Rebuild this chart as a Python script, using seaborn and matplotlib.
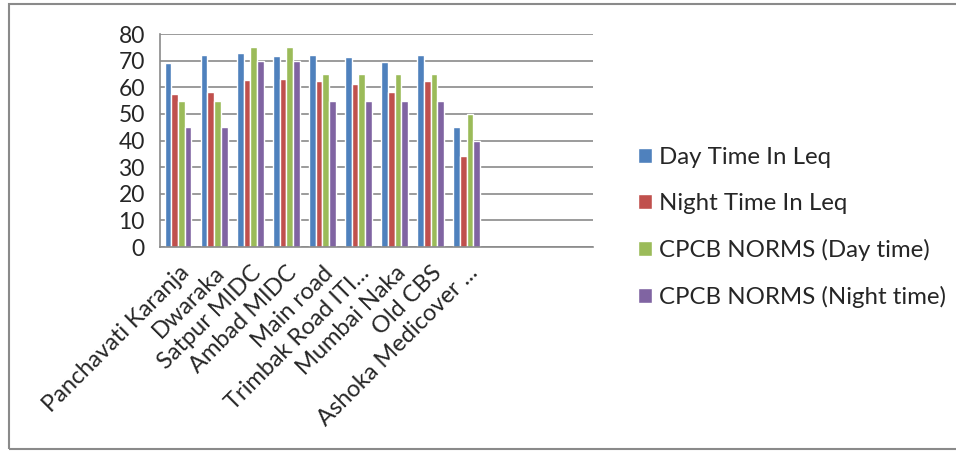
import pandas as pd
import matplotlib
matplotlib.use("Agg")
import matplotlib.pyplot as plt
import seaborn as sns
from matplotlib.patches import Rectangle

# -----------------------------
# Data
# -----------------------------
locations = ["Panchavati Karanja", "Dwaraka", "Satpur MIDC", "Ambad MIDC",
             "Main road", "Trimbak Road (TI...", "Mumbai Naka", "Old CBS",
             "Ashoka Medicover ..."]
tick_labels = ["Panchavati Karanja", "Dwaraka", "Satpur MIDC", "Ambad MIDC",
               "Main road", "Trimbak Road ITI...", "Mumbai Naka", "Old CBS",
               "Ashoka Medicover ..."]
day_leq = [69, 72, 73, 71.6, 72, 71.3, 69.5, 72, 45]
night_leq = [57.3, 58.3, 62.6, 63.1, 62.2, 61.4, 58.3, 62.2, 34.1]
cpcb_day = [55, 55, 75, 75, 65, 65, 65, 65, 50]
cpcb_night = [45, 45, 70, 70, 55, 55, 55, 55, 40]
series_names = ["Day Time In Leq", "Night Time In Leq",
                "CPCB NORMS (Day time)", "CPCB NORMS (Night time)"]
colors = ["#4F81BD", "#C0504D", "#9BBB59", "#8064A2"]
n_slots = 12  # the chart keeps three empty category slots at the right

df = pd.DataFrame({
    "location": locations * 4,
    "series": sum([[s] * len(locations) for s in series_names], []),
    "value": day_leq + night_leq + cpcb_day + cpcb_night,
})

# -----------------------------
# Plot
# -----------------------------
sns.set_style("white")
plt.rcParams["font.family"] = ["Lato", "DejaVu Sans"]

fig = plt.figure(figsize=(9.56, 4.51), dpi=100)
ax = fig.add_axes([0.1674, 0.4523, 0.6203 - 0.1674, 0.9246 - 0.4523])

sns.barplot(data=df, x="location", y="value", hue="series", order=locations,
            hue_order=series_names, palette=colors, width=0.74, gap=0,
            saturation=1, ax=ax, legend=True)

ax.set_xlim(-0.5, n_slots - 0.5)
ax.set_ylim(0, 80)
ax.set_yticks(range(0, 81, 10))
ax.yaxis.grid(True, color="#8a8a8a", linewidth=1.2)
ax.set_axisbelow(True)
ax.tick_params(axis="y", labelsize=16.5, length=7, width=1.2, color="#8a8a8a", pad=4)

# tick marks between categories, labels at the centres
ax.set_xticks([i - 0.5 for i in range(n_slots + 1)])
ax.set_xticklabels([])
ax.set_xticks(range(len(locations)), minor=True)
ax.set_xticklabels(tick_labels, minor=True, rotation=45, ha="right",
                   rotation_mode="anchor", fontsize=17)
ax.tick_params(axis="x", which="major", length=7, width=1.2, color="#8a8a8a")
ax.tick_params(axis="x", which="minor", length=0, pad=11)

for side in ["top", "right"]:
    ax.spines[side].set_visible(False)
for side in ["left", "bottom"]:
    ax.spines[side].set_color("#8a8a8a")
    ax.spines[side].set_linewidth(1.2)

ax.set_xlabel("")
ax.set_ylabel("")

ax.legend(loc="center left", bbox_to_anchor=(638 / 956, 1 - 227.5 / 451),
          bbox_transform=fig.transFigure, borderaxespad=0, borderpad=0,
          frameon=False, fontsize=17.3, handlelength=0.58, handleheight=0.58,
          handletextpad=0.3, labelspacing=1.05)

# outer chart border
fig.patches.append(Rectangle((9 / 956, 2 / 451), 1.0, 445 / 451,
                             transform=fig.transFigure, fill=False,
                             edgecolor="#8a8a8a", linewidth=1.5))

fig.savefig("out.png", dpi=100)
